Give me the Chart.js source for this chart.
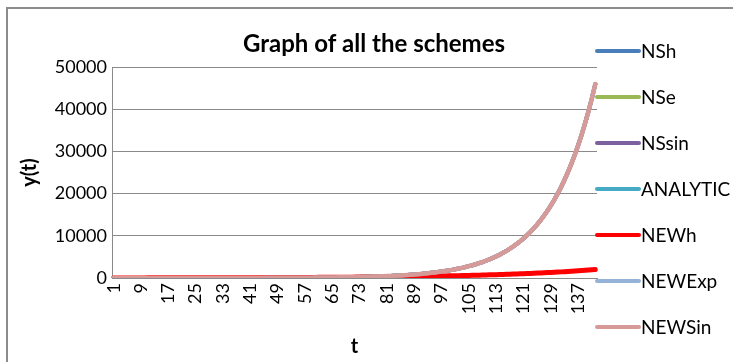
<!DOCTYPE html>
<html>
<head>
<meta charset="utf-8">
<script src="https://cdn.jsdelivr.net/npm/chart.js@4/dist/chart.umd.min.js"></script>
<style>
  html, body { margin: 0; padding: 0; background: #ffffff; }
  #wrap { width: 733px; height: 362px; position: relative; }
</style>
</head>
<body>
<div id="wrap"><canvas id="chart" width="733" height="362"></canvas></div>
<script>
// Time steps t = 1 .. 142
const tLabels = [];
for (let i = 1; i <= 142; i++) tLabels.push(String(i));

// Analytic solution y(t)
const analytic = [
  1.08, 1.16, 1.25, 1.35, 1.46, 1.57, 1.70, 1.83, 1.97, 2.13,
  2.30, 2.48, 2.67, 2.88, 3.11, 3.35, 3.62, 3.90, 4.21, 4.54,
  4.89, 5.28, 5.69, 6.14, 6.62, 7.14, 7.70, 8.30, 8.96, 9.66,
  10.4, 11.2, 12.1, 13.1, 14.1, 15.2, 16.4, 17.7, 19.1, 20.6,
  22.2, 23.9, 25.8, 27.8, 30.0, 32.4, 34.9, 37.7, 40.6, 43.8,
  47.3, 51.0, 55.0, 59.3, 63.9, 69.0, 74.4, 80.2, 86.5, 93.3,
  100.6, 108.5, 117.1, 126.3, 136.2, 146.9, 158.4, 170.9, 184.3, 198.7,
  214, 231, 249, 269, 290, 313, 337, 364, 392, 423,
  457, 492, 531, 573, 618, 666, 719, 775, 836, 901,
  972, 1049, 1131, 1220, 1316, 1419, 1530, 1650, 1780, 1920,
  2071, 2233, 2409, 2598, 2802, 3022, 3259, 3515, 3791, 4089,
  4410, 4756, 5130, 5533, 5967, 6436, 6941, 7486, 8074, 8708,
  9392, 10129, 10925, 11783, 12708, 13706, 14783, 15943, 17196, 18546,
  20002, 21573, 23268, 25094, 27066, 29191, 31483, 33956, 36622, 39498,
  42598, 45945
];

// Numerical schemes (they coincide with the analytic curve at this scale)
const nsH = analytic.slice();
const nsE = analytic.slice();
const nsSin = analytic.slice();
const newExp = analytic.slice();
const newSin = analytic.slice();

// NEWh scheme
const newH = [
  21.9, 22.6, 23.4, 24.1, 24.9, 25.7, 26.6, 27.4, 28.3, 29.3,
  30.2, 31.2, 32.2, 33.2, 34.3, 35.4, 36.6, 37.8, 39.0, 40.3,
  41.6, 42.9, 44.3, 45.8, 47.3, 48.8, 50.4, 52.0, 53.7, 55.5,
  57.3, 59.1, 61.1, 63.1, 65.1, 67.2, 69.4, 71.7, 74.0, 76.4,
  78.9, 81.5, 84.1, 86.8, 89.7, 92.6, 95.6, 98.7, 101.9, 105.2,
  108.6, 112.2, 115.8, 119.6, 123.5, 127.5, 131.6, 135.9, 140.3, 144.9,
  149.6, 154.5, 159.5, 164.7, 170.0, 175.6, 181.3, 187.2, 193.3, 199.5,
  206, 213, 220, 227, 234, 242, 250, 258, 266, 275,
  284, 293, 302, 312, 322, 333, 344, 355, 367, 378,
  391, 403, 417, 430, 444, 459, 473, 489, 505, 521,
  538, 556, 574, 592, 612, 631, 652, 673, 695, 718,
  741, 765, 790, 816, 842, 870, 898, 927, 957, 988,
  1020, 1054, 1088, 1123, 1160, 1198, 1236, 1277, 1318, 1361,
  1405, 1451, 1498, 1547, 1597, 1649, 1703, 1758, 1815, 1874,
  1935, 1998
];

const yTicks = [0, 10000, 20000, 30000, 40000, 50000];

const seriesNames = ['NSh', 'NSe', 'NSsin', 'ANALYTIC', 'NEWh', 'NEWExp', 'NEWSin'];
const seriesData = [nsH, nsE, nsSin, analytic, newH, newExp, newSin];
const seriesColors = ['#4A7EBB', '#98B954', '#7D60A0', '#46AAC5', '#FF0000', '#95B3D7', '#D69A98'];
const seriesWidths = [4, 4, 4, 4, 5, 4, 4.5];

const FONT = "Lato, 'Open Sans', 'DejaVu Sans', sans-serif";
const GRID = '#8a8a8a';

// Title, outer frame and the legend column on the right
const decorations = {
  id: 'decorations',
  afterDraw(chart) {
    const ctx = chart.ctx;
    ctx.save();
    // frame
    ctx.strokeStyle = '#8c8c8c';
    ctx.lineWidth = 2;
    ctx.beginPath();
    ctx.moveTo(7, 362);
    ctx.lineTo(7, 8);
    ctx.lineTo(733, 8);
    ctx.stroke();
    // title
    ctx.fillStyle = '#000';
    ctx.font = 'bold 24px ' + FONT;
    ctx.textAlign = 'center';
    ctx.textBaseline = 'middle';
    ctx.fillText('Graph of all the schemes', 374, 44);
    // legend
    ctx.font = '19px ' + FONT;
    ctx.textAlign = 'left';
    chart.data.datasets.forEach((ds, i) => {
      const y = 51 + i * 46;
      ctx.strokeStyle = ds.borderColor;
      ctx.lineWidth = 4;
      ctx.lineCap = 'round';
      ctx.beginPath();
      ctx.moveTo(597, y);
      ctx.lineTo(639, y);
      ctx.stroke();
      ctx.fillStyle = '#000';
      ctx.fillText(ds.label, 641, y + 1);
    });
    ctx.restore();
  }
};

new Chart(document.getElementById('chart'), {
  type: 'line',
  data: {
    labels: tLabels,
    datasets: seriesNames.map((name, i) => ({
      label: name,
      data: seriesData[i],
      borderColor: seriesColors[i],
      backgroundColor: seriesColors[i],
      borderWidth: seriesWidths[i],
      pointRadius: 0,
      tension: 0,
      borderJoinStyle: 'round',
      borderCapStyle: 'round',
      order: seriesNames.length - i
    }))
  },
  options: {
    responsive: false,
    animation: false,
    layout: { padding: { left: 0, top: 67, right: 136, bottom: 0 } },
    plugins: {
      legend: { display: false },
      title: { display: false },
      tooltip: { enabled: false }
    },
    scales: {
      x: {
        offset: true,
        grid: { display: false, drawTicks: false },
        border: { display: true, color: GRID, width: 1 },
        ticks: {
          autoSkip: false,
          minRotation: 90,
          maxRotation: 90,
          padding: 5,
          color: '#000',
          font: { family: FONT, size: 18 },
          callback: (v, i) => (i % 8 === 0 ? tLabels[i] : '')
        },
        title: {
          display: true,
          text: 't',
          color: '#000',
          font: { family: FONT, size: 20, weight: 'bold' },
          padding: { top: 0, bottom: 3 }
        },
        afterFit: (s) => { s.height = 84; }
      },
      y: {
        min: 0,
        max: 50000,
        afterBuildTicks: (s) => { s.ticks = yTicks.map(v => ({ value: v })); },
        grid: { color: GRID, lineWidth: 1, drawTicks: false },
        border: { display: true, color: GRID, width: 1 },
        ticks: {
          padding: 5,
          color: '#000',
          font: { family: FONT, size: 18 },
          callback: (v) => String(v)
        },
        title: {
          display: true,
          text: 'y(t)',
          color: '#000',
          font: { family: FONT, size: 20, weight: 'bold' },
          padding: { top: 18, bottom: 0 }
        },
        afterFit: (s) => { s.width = 112; }
      }
    }
  },
  plugins: [decorations]
});
</script>
</body>
</html>
